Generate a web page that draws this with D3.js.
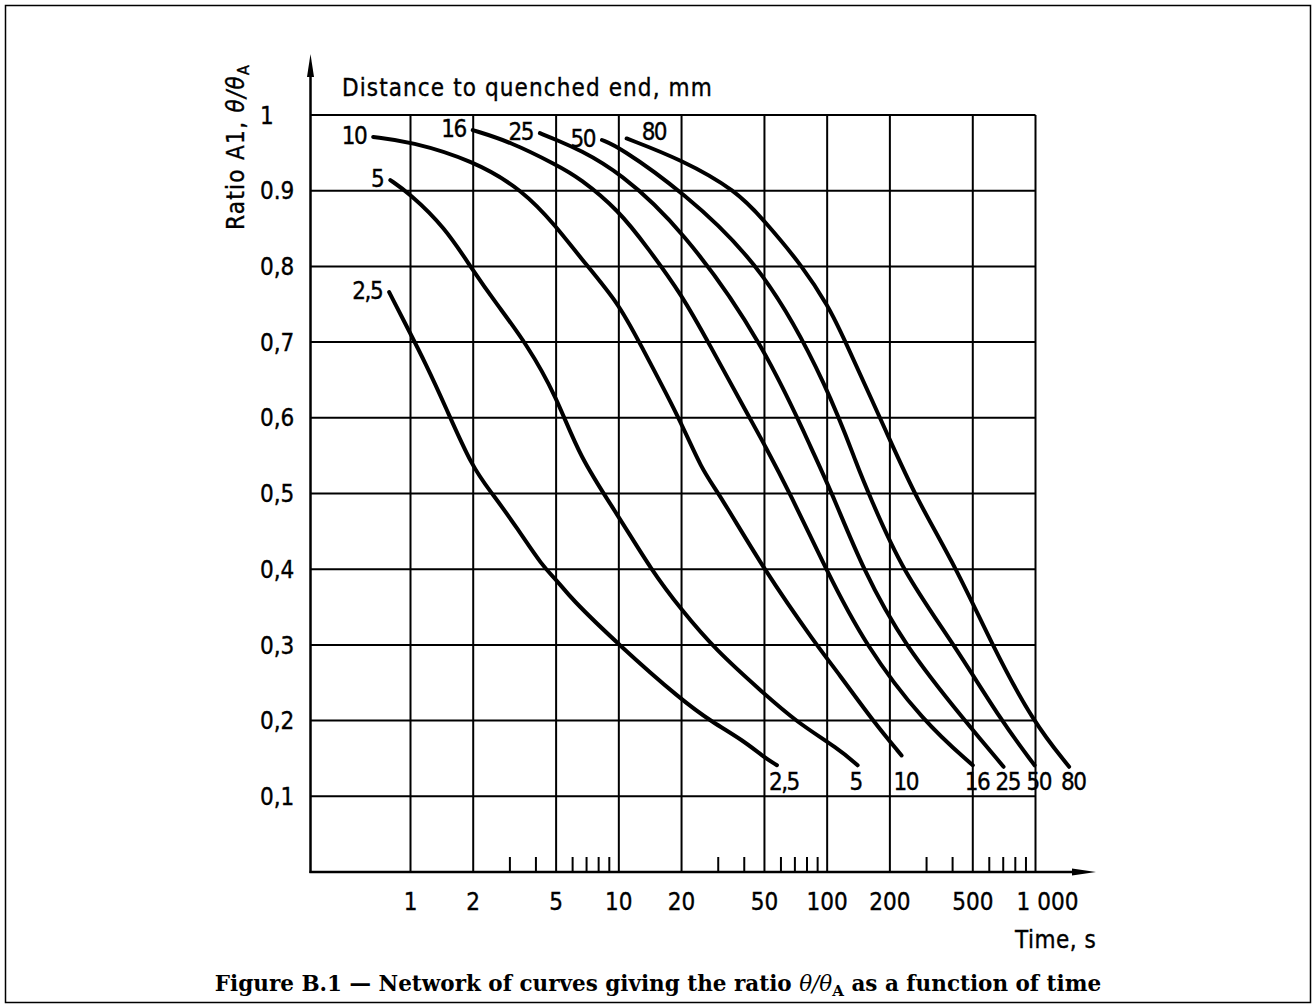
<!DOCTYPE html>
<html>
<head>
<meta charset="utf-8">
<script src="https://cdn.jsdelivr.net/npm/d3@7"></script>
<style>
	html, body { margin: 0; padding: 0; background: #fff; }
	svg { display: block; }
	.iso { font-family: 'DejaVu Sans Condensed', 'DejaVu Sans', sans-serif; font-stretch: condensed; font-size: 24px; fill: #000; stroke: #000; stroke-width: 0.35px; }
	.cap { font-family: 'DejaVu Serif', serif; font-weight: bold; font-size: 21.5px; fill: #000; }
</style>
</head>
<body>
<div id="chart"></div>
<script>
// ? axis ticks
const timeTicks = [1, 2, 5, 10, 20, 50, 100, 200, 500, 1000]
const timeTickLabels = ['1', '2', '5', '10', '20', '50', '100', '200', '500', '1 000']
const minorTicks = [3, 4, 6, 7, 8, 9, 30, 40, 60, 70, 80, 90, 300, 400, 600, 700, 800, 900]
const ratioTicks = [0.1, 0.2, 0.3, 0.4, 0.5, 0.6, 0.7, 0.8, 0.9, 1]
const ratioTickLabels = ['0,1', '0,2', '0,3', '0,4', '0,5', '0,6', '0,7', '0,8', '0.9', '1']

// ? distance to quenched end, mm (one curve each) -> [time s, ratio]
const distances = ['2,5', '5', '10', '16', '25', '50', '80']
const curve2_5 = [[0.79, 0.766], [1, 0.711], [1.18, 0.672], [1.45, 0.619], [1.98, 0.534], [2.47, 0.5], [3.22, 0.456], [4.32, 0.403], [5.03, 0.386], [5.81, 0.363], [10, 0.3], [20, 0.227], [28.1, 0.198], [39.4, 0.174], [49.6, 0.152], [57.4, 0.141]]
const curve5 = [[0.8, 0.914], [0.983, 0.897], [1.46, 0.852], [1.99, 0.795], [2.58, 0.751], [3.6, 0.698], [5.03, 0.628], [6.47, 0.548], [9.93, 0.471], [14.3, 0.399], [20, 0.346], [29.2, 0.293], [49.6, 0.236], [71.4, 0.198], [113, 0.163], [140, 0.141]]
const curve10 = [[0.662, 0.971], [1, 0.965], [1.99, 0.94], [3.46, 0.901], [5.03, 0.852], [6.47, 0.813], [10, 0.751], [12.4, 0.702], [19.6, 0.599], [25, 0.531], [30.3, 0.5], [49.8, 0.399], [88.7, 0.3], [113, 0.263], [167.5, 0.198], [227.6, 0.154]]
const curve16 = [[1.99, 0.98], [2.99, 0.965], [5.03, 0.934], [6.47, 0.917], [10, 0.874], [13.8, 0.824], [20, 0.763], [27.1, 0.698], [42.6, 0.599], [49.7, 0.566], [66.4, 0.5], [99, 0.399], [151.8, 0.3], [290, 0.198], [500, 0.141]]
const curve25 = [[4.18, 0.976], [5.03, 0.967], [6.47, 0.954], [10, 0.925], [20, 0.851], [49.7, 0.698], [89, 0.544], [106.4, 0.498], [148.8, 0.399], [233.8, 0.3], [464, 0.198], [702.6, 0.139]]
const curve50 = [[8.3, 0.967], [10, 0.958], [20, 0.9], [49.7, 0.8], [102.3, 0.637], [141.6, 0.531], [159.5, 0.498], [227.6, 0.399], [408, 0.3], [687, 0.199], [990, 0.141]]
const curve80 = [[10.9, 0.969], [20, 0.941], [36.7, 0.9], [49.7, 0.861], [76.4, 0.8], [102.3, 0.745], [116.3, 0.714], [200, 0.571], [266, 0.495], [420, 0.4], [618.6, 0.3], [973, 0.198], [1450, 0.139]]
const curves = [curve2_5, curve5, curve10, curve16, curve25, curve50, curve80]
const labelAfterStart = [false, false, false, false, false, false, true] // 80 sits right of its curve

const width = 1316
const height = 1006
const plotLeft = 310.5

const x = d3.scaleLog().domain([1, 1000]).range([410.5, 1035.5])
const y = d3.scaleLinear().domain([0, 1]).range([872, 115])

const svg = d3
	.create('svg')
	.attr('width', width)
	.attr('height', height)
	.attr('viewBox', [0, 0, width, height])

svg.append('rect').attr('width', width).attr('height', height).attr('fill', '#fff')

// ? outer frame
svg.append('rect')
	.attr('x', 5.5)
	.attr('y', 5.5)
	.attr('width', width - 11)
	.attr('height', height - 9)
	.attr('fill', 'none')
	.attr('stroke', '#000')
	.attr('stroke-width', 1.5)

// ? grid
const grid = svg.append('g').attr('stroke', '#000').attr('stroke-width', 2)
grid.selectAll('.v')
	.data(timeTicks)
	.join('line')
	.attr('x1', (d) => x(d))
	.attr('x2', (d) => x(d))
	.attr('y1', y(0))
	.attr('y2', y(1))
grid.selectAll('.h')
	.data(ratioTicks)
	.join('line')
	.attr('x1', plotLeft)
	.attr('x2', x(1000))
	.attr('y1', (d) => y(d))
	.attr('y2', (d) => y(d))

// ? minor ticks on the time axis
svg.append('g')
	.attr('stroke', '#000')
	.attr('stroke-width', 2)
	.selectAll('line')
	.data(minorTicks)
	.join('line')
	.attr('x1', (d) => x(d))
	.attr('x2', (d) => x(d))
	.attr('y1', y(0))
	.attr('y2', y(0) - 15)

// ? axes with arrows
const axes = svg.append('g').attr('stroke', '#000').attr('stroke-width', 2.5)
axes.append('line').attr('x1', plotLeft).attr('x2', plotLeft).attr('y1', y(0) + 1).attr('y2', 70)
axes.append('line').attr('x1', plotLeft - 1).attr('x2', 1080).attr('y1', y(0)).attr('y2', y(0))
svg.append('path')
	.attr('d', `M${plotLeft},54 L${plotLeft - 3.5},77 L${plotLeft + 3.5},77 Z`)
	.attr('fill', '#000')
svg.append('path')
	.attr('d', `M1096,${y(0)} L1072,${y(0) - 3.5} L1072,${y(0) + 3.5} Z`)
	.attr('fill', '#000')

// ? tick labels
svg.append('g')
	.attr('class', 'iso')
	.attr('text-anchor', 'middle')
	.selectAll('text')
	.data(timeTicks)
	.join('text')
	.attr('x', (d, i) => (timeTickLabels[i].includes(' ') ? x(d) + 12 : x(d)))
	.attr('y', 910)
	.text((d, i) => timeTickLabels[i])

svg.append('g')
	.attr('class', 'iso')
	.selectAll('text')
	.data(ratioTicks)
	.join('text')
	.attr('x', 260)
	.attr('y', (d) => y(d))
	.attr('dy', '0.36em')
	.text((d, i) => ratioTickLabels[i])

// ? titles
svg.append('text')
	.attr('class', 'iso')
	.attr('x', 342)
	.attr('y', 96)
	.attr('letter-spacing', 1.1)
	.text('Distance to quenched end, mm')

svg.append('text')
	.attr('class', 'iso')
	.attr('x', 1015)
	.attr('y', 948)
	.attr('letter-spacing', 0.5)
	.text('Time, s')

const yTitle = svg.append('text')
	.attr('class', 'iso')
	.attr('font-size', 25)
	.attr('letter-spacing', 1.3)
	.attr('transform', 'translate(244,230) rotate(-90)')
yTitle.append('tspan').text('Ratio A1, ')
yTitle.append('tspan').attr('font-style', 'italic').text('θ/θ')
yTitle.append('tspan').attr('font-size', 16).attr('dy', 5).text('A')

// ? curves
const line = d3
	.line()
	.x((d) => x(d[0]))
	.y((d) => y(d[1]))
	.curve(d3.curveBasis)

svg.append('g')
	.attr('fill', 'none')
	.attr('stroke', '#000')
	.attr('stroke-width', 4)
	.attr('stroke-linecap', 'round')
	.selectAll('path')
	.data(curves)
	.join('path')
	.attr('d', line)

// ? start labels (top) & end labels (bottom)
svg.append('g')
	.attr('class', 'iso')
	.attr('letter-spacing', -1.5)
	.selectAll('text')
	.data(curves)
	.join('text')
	.attr('text-anchor', (d, i) => (labelAfterStart[i] ? 'start' : 'end'))
	.attr('x', (d, i) => x(d[0][0]) + (labelAfterStart[i] ? 15 : -7))
	.attr('y', (d, i) => y(d[0][1]) - (labelAfterStart[i] ? 7 : 2))
	.attr('dy', '0.36em')
	.text((d, i) => distances[i])

svg.append('g')
	.attr('class', 'iso')
	.attr('letter-spacing', -1.5)
	.selectAll('text')
	.data(curves)
	.join('text')
	.attr('x', (d) => x(d[d.length - 1][0]) - 8)
	.attr('y', y(0.1) - 6)
	.text((d, i) => distances[i])

// ? caption
const cap = svg.append('text')
	.attr('class', 'cap')
	.attr('x', width / 2)
	.attr('y', 991)
	.attr('text-anchor', 'middle')
cap.append('tspan').text('Figure B.1 — Network of curves giving the ratio ')
cap.append('tspan').attr('font-style', 'italic').attr('font-weight', 'normal').text('θ/θ')
cap.append('tspan').attr('font-size', 15).attr('dy', 5).text('A')
cap.append('tspan').attr('dy', -5).text(' as a function of time')

document.getElementById('chart').appendChild(svg.node())
</script>
</body>
</html>
